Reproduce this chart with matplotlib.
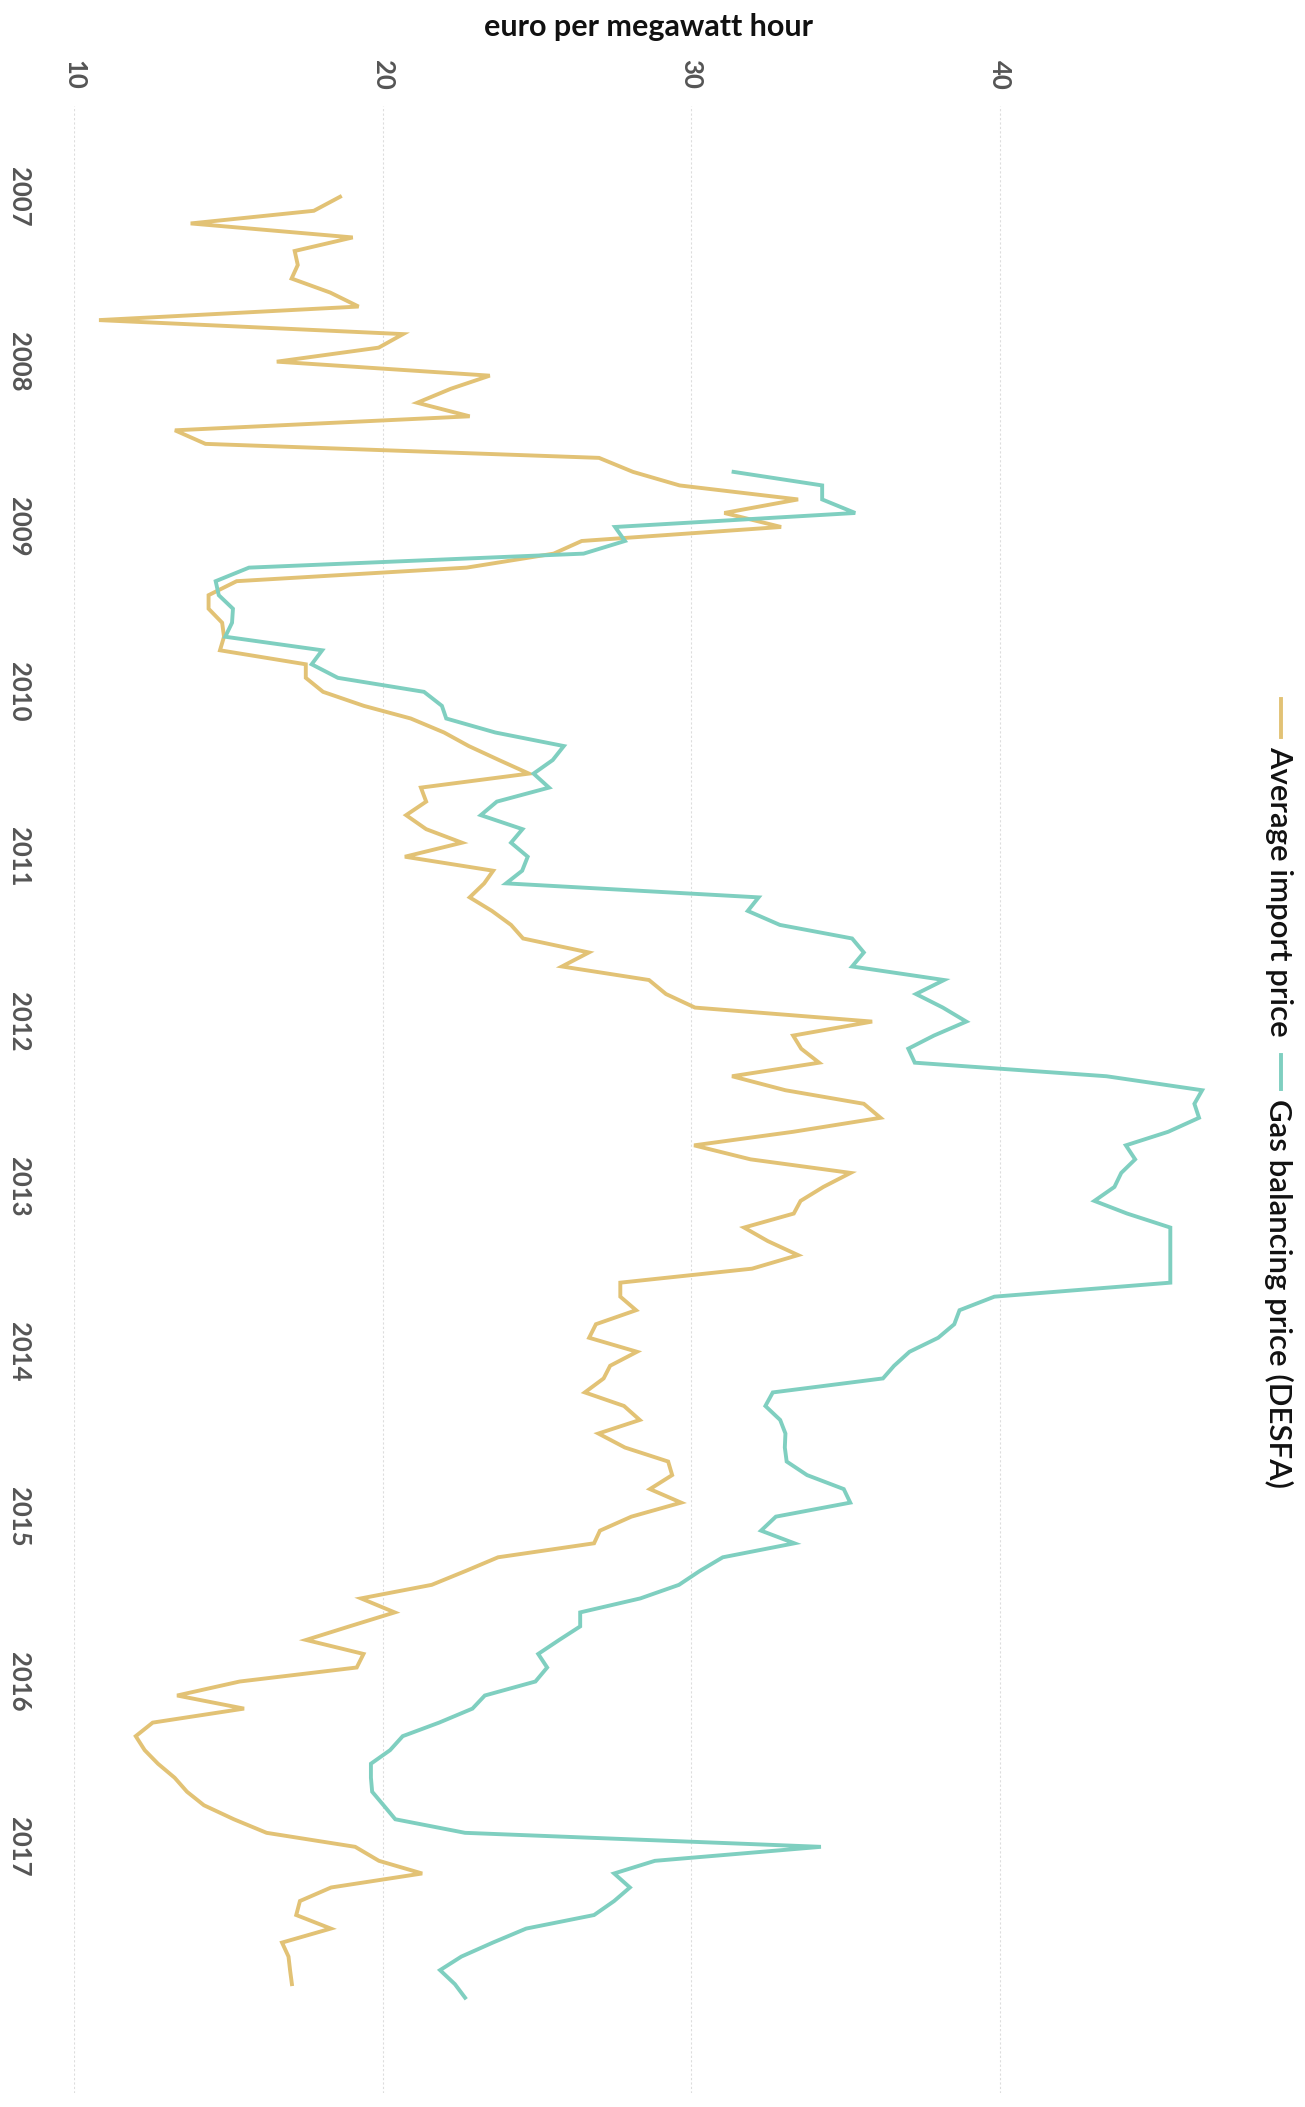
"""
Greek natural gas: average import price against the DESFA gas balancing price.

Monthly values 2007-2017, drawn as a line chart laid on its side:
time runs down the page, price runs left to right.

Generates:
  out.png
"""

import matplotlib
matplotlib.use("Agg")
import matplotlib.pyplot as plt
from matplotlib.lines import Line2D
import pandas as pd

W, H = 1305, 2107
DPI = 100

YELLOW = "#e2c275"
TEAL = "#7fcfc0"
TICK_GREY = "#555555"

AXIS_TITLE = "euro per megawatt hour"
LEGEND_LABELS = ["Average import price", "Gas balancing price (DESFA)"]
YEARS = list(range(2007, 2018))
VALUE_TICKS = [10, 20, 30, 40]

# Average import price, euro/MWh, monthly Jan 2007 - Nov 2017
IMPORT_START = "2007-01-01"
import_price = [
    18.62, 17.77, 13.78, 19.03, 17.15, 17.25, 17.05, 18.30, 19.22, 10.81, 20.66, 19.87,  # 2007
    16.57, 23.47, 22.21, 21.12, 22.82, 13.27, 14.26, 27.01, 28.11, 29.62, 33.46, 31.07,  # 2008
    32.91, 26.45, 25.54, 22.72, 15.27, 14.36, 14.36, 14.80, 14.86, 14.73, 17.51, 17.51,  # 2009
    18.07, 19.39, 20.91, 21.99, 22.79, 23.77, 24.74, 21.24, 21.41, 20.76, 21.41, 22.57,  # 2010
    20.72, 23.58, 23.29, 22.82, 23.54, 24.16, 24.55, 26.68, 25.81, 28.63, 29.18, 30.12,  # 2011
    35.86, 33.30, 33.56, 34.14, 31.32, 33.05, 35.59, 36.13, 33.30, 30.09, 31.92, 35.16,  # 2012
    34.28, 33.54, 33.32, 31.71, 32.48, 33.46, 31.97, 27.70, 27.70, 28.21, 26.91, 26.69,  # 2013
    28.24, 27.37, 27.16, 26.55, 27.82, 28.33, 26.99, 27.85, 29.25, 29.38, 28.66, 29.67,  # 2014
    28.06, 27.04, 26.85, 23.74, 22.70, 21.59, 19.30, 20.39, 18.92, 17.52, 19.38, 19.16,  # 2015
    15.37, 13.34, 15.51, 12.55, 12.00, 12.29, 12.72, 13.26, 13.66, 14.21, 15.18, 16.24,  # 2016
    19.11, 19.88, 21.28, 18.33, 17.32, 17.20, 18.32, 16.74, 16.95, 17.00, 17.06,         # 2017
]

# Gas balancing price (DESFA), euro/MWh, monthly Sep 2008 - Dec 2017
BALANCING_START = "2008-09-01"
balancing_price = [
    31.37, 34.24, 34.24, 35.31,                                                          # 2008
    27.53, 27.85, 26.51, 15.67, 14.59, 14.69, 15.15, 15.12, 14.90, 18.04, 17.70, 18.55,  # 2009
    21.34, 21.92, 22.06, 23.65, 25.87, 25.51, 24.89, 25.39, 23.70, 23.18, 24.53, 24.16,  # 2010
    24.70, 24.52, 24.00, 32.18, 31.83, 32.87, 35.21, 35.59, 35.21, 38.19, 37.28, 38.15,  # 2011
    38.91, 37.86, 37.03, 37.24, 43.45, 46.55, 46.30, 46.45, 45.45, 44.08, 44.38, 43.93,  # 2012
    43.71, 43.06, 44.12, 45.52, 45.52, 45.52, 45.52, 45.52, 39.82, 38.69, 38.52, 38.00,  # 2013
    37.07, 36.57, 36.21, 32.64, 32.40, 32.88, 33.05, 33.03, 33.09, 33.75, 34.94, 35.15,  # 2014
    32.74, 32.26, 33.34, 31.02, 30.28, 29.60, 28.35, 26.40, 26.40, 25.72, 25.04, 25.33,  # 2015
    24.95, 23.31, 22.91, 21.83, 20.65, 20.24, 19.62, 19.62, 19.66, 20.03, 20.41, 22.67,  # 2016
    34.20, 28.82, 27.50, 28.01, 27.50, 26.85, 24.65, 23.57, 22.55, 21.86, 22.34, 22.67,  # 2017
]


def fx(px):
    """Pixel column -> figure fraction."""
    return px / W


def fy(px):
    """Pixel row (from the top) -> figure fraction."""
    return 1 - px / H


def add_legend(fig):
    """Legend turned on its side along the right edge."""
    entries = [
        (YELLOW, 699, 737, 746, LEGEND_LABELS[0]),
        (TEAL, 1055, 1089, 1099, LEGEND_LABELS[1]),
    ]
    for color, y0, y1, y_text, label in entries:
        fig.add_artist(Line2D([fx(1281), fx(1281)], [fy(y0), fy(y1)],
                              transform=fig.transFigure, color=color, lw=2.8))
        fig.text(fx(1279), fy(y_text), label, rotation=-90,
                 ha="center", va="top", fontsize=22.5, fontweight="semibold",
                 color="#111111")


def main():
    plt.rcParams["font.family"] = ["Lato", "DejaVu Sans"]

    fig = plt.figure(figsize=(W / DPI, H / DPI), dpi=DPI)
    ax = fig.add_axes([fx(74), fy(2093), (1216 - 74) / W, (2093 - 106) / H])

    import_dates = pd.date_range(IMPORT_START, periods=len(import_price), freq="MS")
    balancing_dates = pd.date_range(BALANCING_START, periods=len(balancing_price), freq="MS")

    ax.plot(import_price, import_dates, color=YELLOW, lw=2.8, solid_joinstyle="miter")
    ax.plot(balancing_price, balancing_dates, color=TEAL, lw=2.8, solid_joinstyle="miter")

    ax.set_xlim(10, 47)
    ax.set_ylim(pd.Timestamp("2018-06-30"), pd.Timestamp("2006-06-14"))

    # price axis along the top
    ax.set_xticks(VALUE_TICKS)
    ax.set_xticklabels([str(v) for v in VALUE_TICKS])
    ax.xaxis.tick_top()
    ax.tick_params(axis="x", length=0, pad=12, labelsize=18.5,
                   labelcolor=TICK_GREY, labelrotation=-90)
    for lbl in ax.get_xticklabels():
        lbl.set_fontweight("bold")
    ax.grid(axis="x", color="#dddddd", lw=0.8, linestyle=(0, (2, 2)))

    # years down the left side
    ax.set_yticks([pd.Timestamp(f"{y}-01-01") for y in YEARS])
    ax.set_yticklabels([str(y) for y in YEARS], rotation=-90, va="center")
    ax.tick_params(axis="y", length=0, pad=31, labelsize=18.5, labelcolor=TICK_GREY)
    for lbl in ax.get_yticklabels():
        lbl.set_fontweight("bold")

    for spine in ax.spines.values():
        spine.set_visible(False)

    fig.text(fx(649), fy(27), AXIS_TITLE, ha="center", va="center",
             fontsize=22, fontweight="bold", color="#111111")
    add_legend(fig)

    fig.savefig("out.png", dpi=DPI)
    plt.close(fig)


if __name__ == "__main__":
    main()
